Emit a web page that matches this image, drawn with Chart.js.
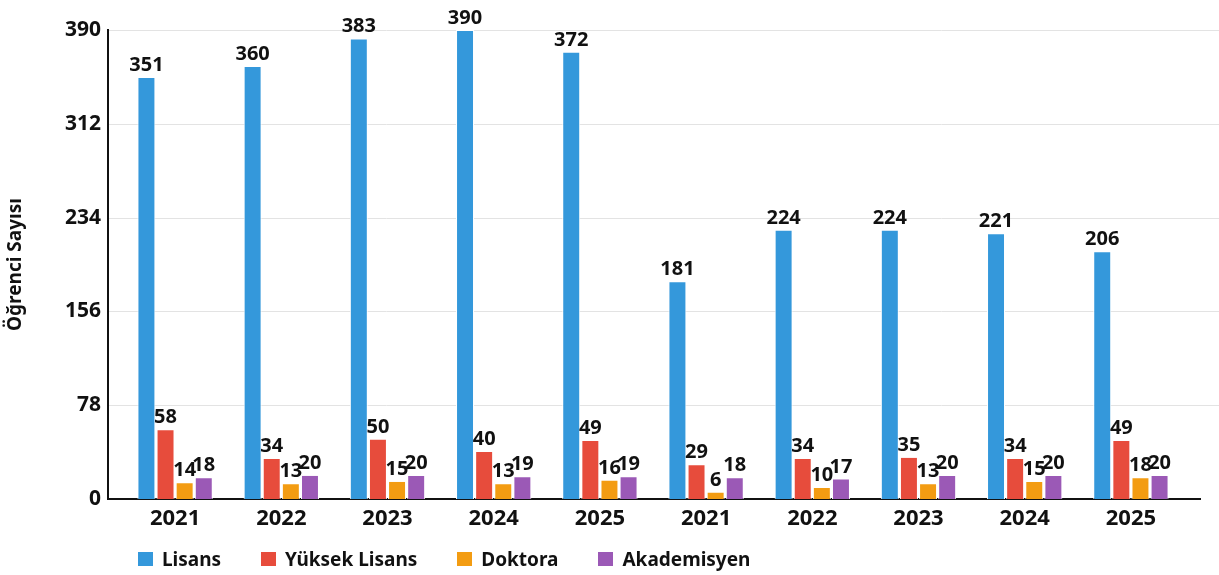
<!DOCTYPE html>
<html>
<head>
<meta charset="utf-8">
<script src="https://cdn.jsdelivr.net/npm/chart.js@4/dist/chart.umd.min.js"></script>
<style>
  html, body { margin: 0; padding: 0; background: #fff; }
  #wrap { position: relative; width: 1219px; height: 575px; }
  #legend {
    position: absolute; left: 138px; top: 546px;
    display: flex; align-items: center;
    font-family: "Noto Sans", sans-serif; font-weight: bold; font-size: 19px; color: #111;
  }
  #legend span.item { display: flex; align-items: center; margin-right: 40px; }
  #legend span.box { width: 15px; height: 14px; margin-right: 9px; display: inline-block; }
</style>
</head>
<body>
<div id="wrap">
  <canvas id="chart" width="1219" height="575"></canvas>
  <div id="legend"></div>
</div>
<script>
// ── 資料 ─────────────────────────────────────────────
const YEARS = ['2021','2022','2023','2024','2025','2021','2022','2023','2024','2025'];

const LISANS       = [351, 360, 383, 390, 372, 181, 224, 224, 221, 206];
const YUKSEK       = [ 58,  34,  50,  40,  49,  29,  34,  35,  34,  49];
const DOKTORA      = [ 14,  13,  15,  13,  16,   6,  10,  13,  15,  18];
const AKADEMISYEN  = [ 18,  20,  20,  19,  19,  18,  17,  20,  20,  20];

const SERIES_NAMES = ['Lisans', 'Yüksek Lisans', 'Doktora', 'Akademisyen'];
const COLORS       = ['#3498db', '#e74c3c', '#f39c12', '#9b59b6'];

const Y_MAX  = 390;
const Y_STEP = 78;

const FONT = '"Noto Sans", sans-serif';

// ── 格線與軸線（延伸到圖表區之外） ──────────────────────
const gridPlugin = {
  id: 'wideGrid',
  beforeDatasetsDraw(chart) {
    const { ctx, scales: { y }, chartArea } = chart;
    ctx.save();
    ctx.strokeStyle = '#e3e3e3';
    ctx.lineWidth = 1;
    y.ticks.forEach(t => {
      if (t.value === 0) return;
      const py = Math.round(y.getPixelForValue(t.value)) + 0.5;
      ctx.beginPath();
      ctx.moveTo(109, py);
      ctx.lineTo(1219, py);
      ctx.stroke();
    });
    ctx.strokeStyle = '#111';
    ctx.lineWidth = 2;
    const base = y.getPixelForValue(0);
    ctx.beginPath();
    ctx.moveTo(108, chartArea.top - 1);
    ctx.lineTo(108, base);
    ctx.lineTo(1201, base);
    ctx.stroke();
    ctx.restore();
  },
};

// ── 數值標籤 ──────────────────────────────────────────
const valuePlugin = {
  id: 'values',
  afterDatasetsDraw(chart) {
    const { ctx } = chart;
    ctx.save();
    ctx.font = `bold 20px ${FONT}`;
    ctx.fillStyle = '#111';
    ctx.textAlign = 'center';
    ctx.textBaseline = 'alphabetic';
    chart.data.datasets.forEach((ds, i) => {
      chart.getDatasetMeta(i).data.forEach((bar, j) => {
        ctx.fillText(ds.data[j], bar.x, bar.y - 6);
      });
    });
    ctx.restore();
  },
};

const ctx = document.getElementById('chart').getContext('2d');
new Chart(ctx, {
  type: 'bar',
  data: {
    labels: YEARS,
    datasets: [LISANS, YUKSEK, DOKTORA, AKADEMISYEN].map((d, i) => ({
      label: SERIES_NAMES[i],
      data: d,
      backgroundColor: COLORS[i],
      borderColor: '#ffffff',
      borderWidth: 1,
      categoryPercentage: 0.72,
      barPercentage: 0.94,
    })),
  },
  plugins: [gridPlugin, valuePlugin],
  options: {
    responsive: false,
    animation: false,
    layout: { padding: { top: 30, right: 35, left: 0, bottom: 0 } },
    plugins: {
      legend: { display: false },
      tooltip: { enabled: false },
    },
    scales: {
      x: {
        grid: { display: false, drawTicks: false },
        border: { display: false },
        ticks: {
          color: '#111',
          padding: 7,
          font: { family: FONT, size: 22, weight: 'bold' },
          maxRotation: 0,
          autoSkip: false,
        },
        afterFit: s => { s.height = 76; },
      },
      y: {
        min: 0,
        max: Y_MAX,
        grid: { display: false, drawTicks: false },
        border: { display: false },
        ticks: {
          stepSize: Y_STEP,
          color: '#111',
          padding: 21,
          font: { family: FONT, size: 21, weight: 'bold' },
        },
        title: {
          display: true,
          text: 'Öğrenci Sayısı',
          color: '#111',
          font: { family: FONT, size: 19, weight: 'bold' },
          padding: { top: 4, bottom: 0 },
        },
        afterFit: s => { s.width = 122; s.paddingTop = 0; },
      },
    },
  },
});

// ── 圖例 ─────────────────────────────────────────────
const legendEl = document.getElementById('legend');
SERIES_NAMES.forEach((name, i) => {
  const item = document.createElement('span');
  item.className = 'item';
  const box = document.createElement('span');
  box.className = 'box';
  box.style.background = COLORS[i];
  item.appendChild(box);
  item.appendChild(document.createTextNode(name));
  legendEl.appendChild(item);
});
</script>
</body>
</html>
